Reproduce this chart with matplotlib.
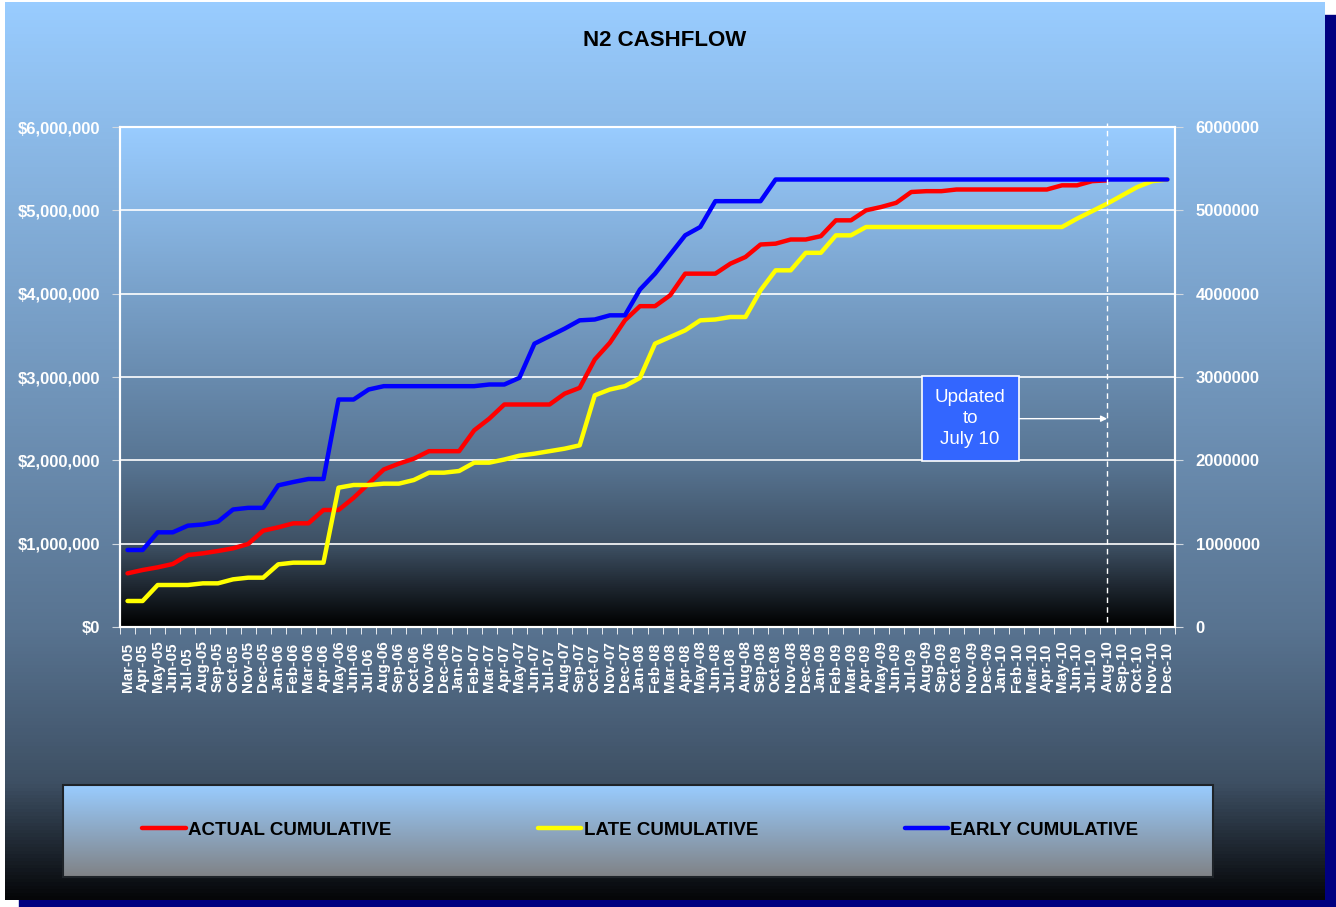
import matplotlib
matplotlib.use('Agg')
import matplotlib.pyplot as plt
import numpy as np
from matplotlib.colors import LinearSegmentedColormap
from matplotlib.patches import Rectangle

plt.rcParams['font.family'] = ['Liberation Sans', 'DejaVu Sans']

# month categories
months = ['Mar-05', 'Apr-05', 'May-05', 'Jun-05', 'Jul-05', 'Aug-05', 'Sep-05', 'Oct-05', 'Nov-05', 'Dec-05',
          'Jan-06', 'Feb-06', 'Mar-06', 'Apr-06', 'May-06', 'Jun-06', 'Jul-06', 'Aug-06', 'Sep-06', 'Oct-06',
          'Nov-06', 'Dec-06', 'Jan-07', 'Feb-07', 'Mar-07', 'Apr-07', 'May-07', 'Jun-07', 'Jul-07', 'Aug-07',
          'Sep-07', 'Oct-07', 'Nov-07', 'Dec-07', 'Jan-08', 'Feb-08', 'Mar-08', 'Apr-08', 'May-08', 'Jun-08',
          'Jul-08', 'Aug-08', 'Sep-08', 'Oct-08', 'Nov-08', 'Dec-08', 'Jan-09', 'Feb-09', 'Mar-09', 'Apr-09',
          'May-09', 'Jun-09', 'Jul-09', 'Aug-09', 'Sep-09', 'Oct-09', 'Nov-09', 'Dec-09', 'Jan-10', 'Feb-10',
          'Mar-10', 'Apr-10', 'May-10', 'Jun-10', 'Jul-10', 'Aug-10', 'Sep-10', 'Oct-10', 'Nov-10', 'Dec-10']

# cumulative values in $ millions
actual = [0.644, 0.684, 0.716, 0.756, 0.864, 0.884, 0.912, 0.944, 0.996, 1.156,
          1.196, 1.244, 1.244, 1.404, 1.404, 1.55, 1.72, 1.89, 1.96, 2.02,
          2.11, 2.11, 2.11, 2.36, 2.50, 2.67, 2.67, 2.67, 2.67, 2.80,
          2.87, 3.21, 3.41, 3.68, 3.85, 3.85, 3.98, 4.24, 4.24, 4.24,
          4.36, 4.44, 4.59, 4.60, 4.65, 4.65, 4.69, 4.88, 4.88, 5.00,
          5.04, 5.09, 5.22, 5.23, 5.23, 5.25, 5.25, 5.25, 5.25, 5.25,
          5.25, 5.25, 5.30, 5.30, 5.35, 5.36]

late = [0.312, 0.312, 0.504, 0.504, 0.504, 0.524, 0.524, 0.572, 0.592, 0.592,
        0.752, 0.772, 0.772, 0.772, 1.672, 1.704, 1.704, 1.72, 1.72, 1.764,
        1.852, 1.852, 1.872, 1.972, 1.972, 2.01, 2.056, 2.08, 2.11, 2.14,
        2.18, 2.78, 2.85, 2.89, 2.99, 3.40, 3.48, 3.56, 3.68, 3.69,
        3.72, 3.72, 4.04, 4.28, 4.28, 4.49, 4.49, 4.70, 4.70, 4.80,
        4.80, 4.80, 4.80, 4.80, 4.80, 4.80, 4.80, 4.80, 4.80, 4.80,
        4.80, 4.80, 4.80, 4.90, 4.99, 5.08, 5.18, 5.28, 5.35, 5.37]

early = [0.924, 0.924, 1.136, 1.136, 1.216, 1.23, 1.264, 1.41, 1.43, 1.43,
         1.70, 1.74, 1.776, 1.776, 2.73, 2.73, 2.85, 2.89, 2.89, 2.89,
         2.89, 2.89, 2.89, 2.89, 2.91, 2.91, 2.99, 3.40, 3.49, 3.58,
         3.68, 3.69, 3.74, 3.74, 4.05, 4.24, 4.47, 4.70, 4.80, 5.11,
         5.11, 5.11, 5.11, 5.37, 5.37, 5.37, 5.37, 5.37, 5.37, 5.37,
         5.37, 5.37, 5.37, 5.37, 5.37, 5.37, 5.37, 5.37, 5.37, 5.37,
         5.37, 5.37, 5.37, 5.37, 5.37, 5.37, 5.37, 5.37, 5.37, 5.37]

y_ticks = [0, 1e6, 2e6, 3e6, 4e6, 5e6, 6e6]
update_month = 'Aug-10'
note_text = 'Updated\nto\nJuly 10'

W, H = 1336, 907
fig = plt.figure(figsize=(W / 100, H / 100), dpi=100, facecolor='white')

# background panel, shadow and gradients
panel_cmap = LinearSegmentedColormap.from_list(
    'panel', [(0, '#99CCFF'), (0.7, '#587390'), (0.87, '#3E5064'), (1.0, '#050608')])
plot_cmap = LinearSegmentedColormap.from_list(
    'plotbg', [(0, '#99CCFF'), (0.67, '#587593'), (0.84, '#3D4F62'), (1.0, '#000000')])
legend_cmap = LinearSegmentedColormap.from_list('legbg', ['#99CCFF', '#808285'])
grad = np.linspace(0, 1, 256).reshape(-1, 1)

bg = fig.add_axes([0, 0, 1, 1])
bg.axis('off')
bg.add_patch(Rectangle((19, 15), W - 19, H - 15, color='#000080', zorder=0))
bg.imshow(grad, cmap=panel_cmap, extent=[5, 1325, 900, 2], aspect='auto', zorder=1)
bg.imshow(grad, cmap=plot_cmap, extent=[120, 1175, 627, 127], aspect='auto', zorder=2)
bg.imshow(grad, cmap=legend_cmap, extent=[63, 1213, 877, 785], aspect='auto', zorder=2)
bg.add_patch(Rectangle((63, 785), 1150, 92, fill=False, edgecolor='#1e2328', lw=1.5, zorder=3))
bg.set_xlim(0, W)
bg.set_ylim(H, 0)

# main chart
ax = fig.add_axes([120 / W, 1 - 627 / H, 1055 / W, 500 / H])
ax.set_facecolor('none')
x = np.arange(len(months))
ax.plot(x[:len(actual)], np.array(actual) * 1e6, color='#FF0000', lw=3.2,
        solid_capstyle='round', label='ACTUAL CUMULATIVE')
ax.plot(x[:len(late)], np.array(late) * 1e6, color='#FFFF00', lw=3.2,
        solid_capstyle='round', label='LATE CUMULATIVE')
ax.plot(x[:len(early)], np.array(early) * 1e6, color='#0000FF', lw=3.2,
        solid_capstyle='round', label='EARLY CUMULATIVE')

ax.set_xlim(-0.5, len(months) - 0.5)
ax.set_ylim(0, 6e6)
ax.set_yticks(y_ticks, labels=[f'${v:,.0f}' for v in y_ticks],
              fontsize=12, fontweight='bold', color='white')
ax.grid(axis='y', color='white', lw=1.2)
ax.set_axisbelow(True)
ax.tick_params(axis='y', length=6, color='#D0D8E0', pad=8)

ax.set_xticks(x, labels=months, rotation=90, fontsize=11, fontweight='bold', color='white',
              ha='left', va='center', rotation_mode='anchor')
ax.set_xticks(np.arange(-0.5, len(months), 1), minor=True)
ax.tick_params(axis='x', which='major', length=0, pad=47)
ax.tick_params(axis='x', which='minor', length=5, color='white')
for s in ax.spines.values():
    s.set_color('white')
    s.set_linewidth(1.5)

ax2 = ax.twinx()
ax2.set_ylim(0, 6e6)
ax2.set_yticks(y_ticks, labels=[f'{v:.0f}' for v in y_ticks],
               fontsize=12, fontweight='bold', color='white')
ax2.tick_params(axis='y', length=6, color='#D0D8E0', pad=9)
for s in ax2.spines.values():
    s.set_color('white')
    s.set_linewidth(1.5)

# "updated to" marker
upd = months.index(update_month)
ax.plot([upd, upd], [0.06e6, 6.05e6], color='white', lw=1, dashes=(4, 3), clip_on=False)
ax.annotate(note_text, xy=(upd, 2.5e6), xytext=(55.9, 2.5e6), ha='center', va='center',
            color='white', fontsize=13.5, linespacing=1.3,
            bbox=dict(boxstyle='square,pad=0.7', fc='#3366FF', ec='white', lw=1.2),
            arrowprops=dict(arrowstyle='-|>', color='white', lw=1, shrinkA=0, shrinkB=0,
                            mutation_scale=9))

fig.text(665 / W, 1 - 40 / H, 'N2 CASHFLOW', ha='center', va='center',
         fontsize=16, fontweight='bold', color='black')

handles, labels = ax.get_legend_handles_labels()
fig.legend(handles, labels, loc='center', bbox_to_anchor=(640.5 / W, 1 - 830 / H), ncol=3,
           frameon=False, prop=dict(weight='bold', size=13.5), handlelength=2.3,
           handletextpad=0.15, columnspacing=7.8)

fig.savefig('out.png', dpi=100)
